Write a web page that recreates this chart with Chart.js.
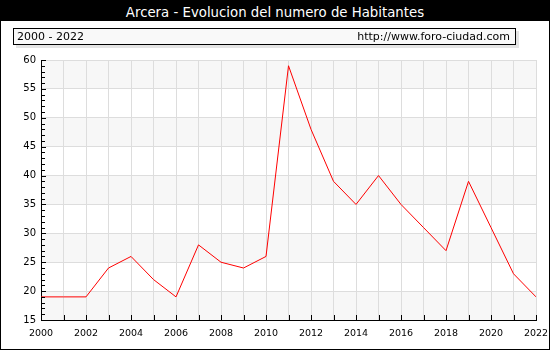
<!DOCTYPE html>
<html>
<head>
<meta charset="utf-8">
<script src="https://cdn.jsdelivr.net/npm/chart.js@4/dist/chart.umd.min.js"></script>
<style>
  body { margin: 0; background: #fff; }
  #wrap { position: relative; width: 550px; height: 350px; font-family: "DejaVu Sans", sans-serif; }
  #frame { position: absolute; left: 0; top: 20px; width: 548px; height: 328px; border: 1px solid #000; }
  #title { position: absolute; left: 0; top: 0; width: 550px; height: 20px; background: #000; color: #fff;
           font-size: 13.3px; line-height: 25px; text-align: center; overflow: hidden; }
  #info { position: absolute; left: 13px; top: 28px; width: 501px; height: 15px; border: 1px solid #000;
          background: #f9f9f9; box-shadow: 3px 3px 0 #e4e4e4; font-size: 11px; line-height: 15px; }
  #info .l { position: absolute; left: 3px; }
  #info .r { position: absolute; right: 5px; }
  canvas { position: absolute; left: 0; top: 0; }
</style>
</head>
<body>
<div id="wrap">
  <canvas id="chart" width="550" height="350"></canvas>
  <div id="frame"></div>
  <div id="title">Arcera - Evolucion del numero de Habitantes</div>
  <div id="info"><span class="l">2000 - 2022</span><span class="r">http://www.foro-ciudad.com</span></div>
</div>
<script>
const years = [2000, 2001, 2002, 2003, 2004, 2005, 2006, 2007, 2008, 2009, 2010, 2011,
               2012, 2013, 2014, 2015, 2016, 2017, 2018, 2019, 2020, 2021, 2022];
const habitantes = [19, 19, 19, 24, 26, 22, 19, 28, 25, 24, 26, 59,
                    48, 39, 35, 40, 35, 31, 27, 39, 31, 23, 19];
const yMin = 15, yMax = 60, yStep = 5;

// franjas grises alternas y marcas cortas hacia dentro
const decoracion = {
  id: 'decoracion',
  beforeDraw(chart) {
    const { ctx, chartArea: a, scales: { y } } = chart;
    ctx.save();
    ctx.fillStyle = '#f7f7f7';
    for (let v = yMin; v < yMax; v += 2 * yStep) {
      const top = y.getPixelForValue(v + yStep), bot = y.getPixelForValue(v);
      ctx.fillRect(a.left, top, a.right - a.left, bot - top);
    }
    ctx.restore();
  },
  afterDraw(chart) {
    const { ctx, scales: { x, y } } = chart;
    ctx.save();
    ctx.strokeStyle = '#000';
    ctx.lineWidth = 1;
    ctx.beginPath();
    years.forEach(yr => {
      const px = Math.round(x.getPixelForValue(yr)) + 0.5;
      ctx.moveTo(px, y.bottom);
      ctx.lineTo(px, y.bottom - 5);
    });
    for (let v = yMin; v <= yMax; v++) {
      const py = Math.round(y.getPixelForValue(v)) + 0.5;
      const len = v % yStep === 0 ? 5 : 4;
      ctx.moveTo(x.left, py);
      ctx.lineTo(x.left + len, py);
    }
    ctx.stroke();
    ctx.restore();
  }
};

new Chart(document.getElementById('chart'), {
  type: 'line',
  data: {
    datasets: [{
      data: years.map((yr, i) => ({ x: yr, y: habitantes[i] })),
      borderColor: '#ff0000',
      borderWidth: 1,
      pointRadius: 0,
      tension: 0,
      fill: false
    }]
  },
  options: {
    responsive: false,
    animation: false,
    layout: { padding: { top: 60, right: 14, left: 0, bottom: 0 } },
    plugins: { legend: { display: false }, tooltip: { enabled: false } },
    scales: {
      x: {
        type: 'linear',
        min: 2000,
        max: 2022,
        afterFit: s => { s.height = 30; s.paddingLeft = 0; s.paddingRight = 0; },
        grid: { color: '#dddddd', drawTicks: false },
        border: { color: '#000' },
        ticks: {
          stepSize: 1,
          autoSkip: false,
          maxRotation: 0,
          padding: 8,
          color: '#000',
          font: { family: 'DejaVu Sans', size: 9.5 },
          callback: v => (v % 2 === 0 ? String(v) : '')
        }
      },
      y: {
        min: yMin,
        max: yMax,
        afterFit: s => { s.width = 41; s.paddingTop = 0; s.paddingBottom = 0; },
        grid: { color: '#dddddd', drawTicks: false },
        border: { color: '#000' },
        ticks: {
          stepSize: yStep,
          padding: 5,
          color: '#000',
          font: { family: 'DejaVu Sans', size: 10 }
        }
      }
    }
  },
  plugins: [decoracion]
});
</script>
</body>
</html>
